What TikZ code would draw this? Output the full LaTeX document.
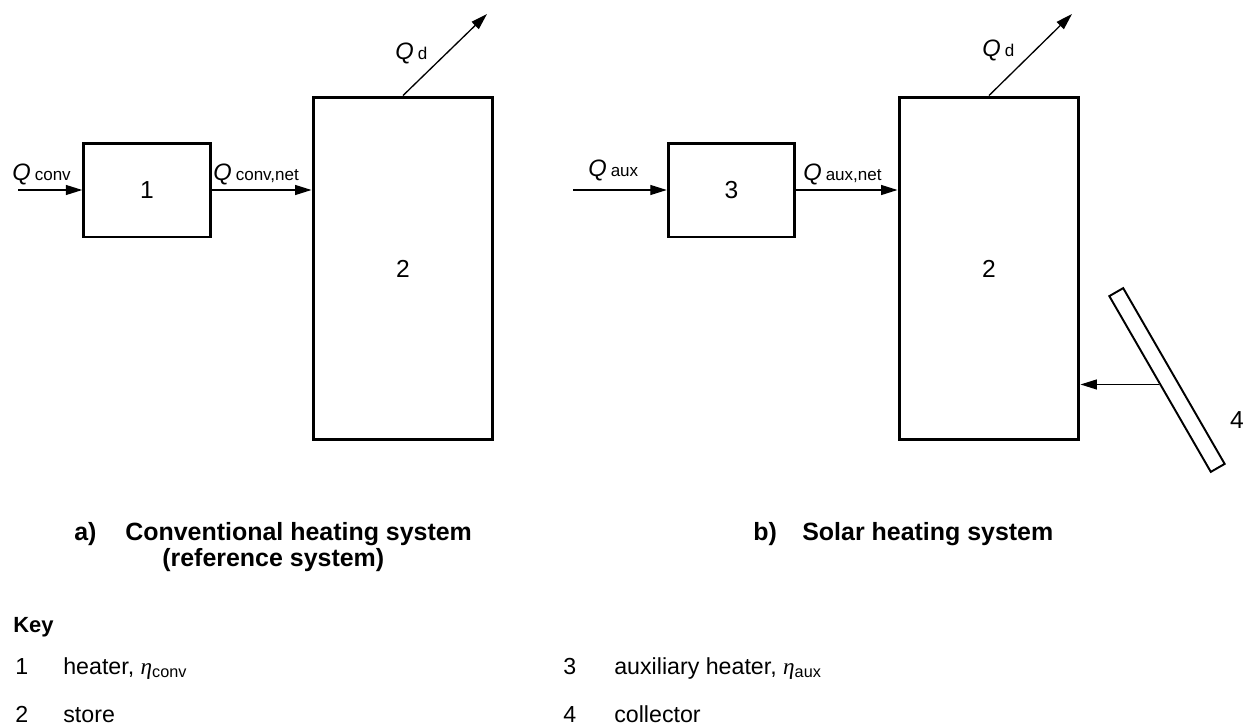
\documentclass[tikz,border=0pt]{standalone}
\usepackage{fontspec}
\setmainfont{Liberation Sans}
\newfontfamily\greekserif{Liberation Serif}
\usepackage{tikz}
\usetikzlibrary{arrows.meta,calc}
\newcommand{\qsym}[1]{\textit{Q}\,{\fontsize{9.7}{11}\selectfont #1}}
\newcommand{\effsym}[1]{{\greekserif\itshape η}\textsubscript{#1}}
\tikzset{
  unitbox/.style={draw,line width=1.7pt,minimum width=2.53cm,minimum height=1.88cm,inner sep=0pt,font=\fontsize{14}{16}\selectfont},
  storebox/.style={unitbox,minimum width=3.6cm,minimum height=6.86cm},
  collplate/.style={draw,line width=1.1pt,minimum width=4.06cm,minimum height=0.32cm,inner sep=0pt,rotate=-60},
  flow/.style={line width=0.75pt,-{Triangle[length=3.3mm,width=2mm]}},
  qlabel/.style={anchor=base west,inner sep=0pt,font=\fontsize{13.5}{15}\selectfont},
  caption/.style={anchor=base west,inner sep=0pt,font=\bfseries\fontsize{14.2}{17}\selectfont},
  keyitem/.style={anchor=base west,inner sep=0pt,font=\fontsize{13.2}{15}\selectfont}
}

\begin{document}
\begin{tikzpicture}[x=0.02cm,y=-0.02cm]
  \useasboundingbox (0,0) rectangle (1249,727);
  \node[unitbox] (heater) at (147,190) {1};
  \node[storebox] (store) at (403,268.5) {2};
  \node[unitbox] (auxheater) at (731.5,190) {3};
  \node[storebox] (storeb) at (989,268.5) {2};
  \node[collplate] (coll) at (1167,380) {};
  \node[font=\fontsize{14}{16}\selectfont] (collnum) at (1237,420) {4};
  \coordinate (convin) at (18,190);
  \coordinate (auxin) at (573,190);
  \coordinate (qdout) at (487,14);
  \coordinate (qdoutb) at (1072,14);
  \draw[flow] (convin) -- (heater);
  \draw[flow] (heater.east) -- (heater.east -| store.west);
  \draw[flow] (store.north) -- (qdout);
  \draw[flow] (auxin) -- (auxheater);
  \draw[flow] (auxheater.east) -- (auxheater.east -| storeb.west);
  \draw[flow] (storeb.north) -- (qdoutb);
  \draw[flow] (coll.south) -- (coll.south -| storeb.east);
  \node[qlabel] (qconv) at (12,180) {\qsym{conv}};
  \node[qlabel] (qconvnet) at (213,180) {\qsym{conv,net}};
  \node[qlabel] (qd) at (395,59) {\qsym{d}};
  \node[qlabel] (qaux) at (588,176) {\qsym{aux}};
  \node[qlabel] (qauxnet) at (803,180) {\qsym{aux,net}};
  \node[qlabel] (qdb) at (982,56) {\qsym{d}};
  \node[caption] (capa) at (74,540) {a)};
  \node[caption] (capatext) at (125,540) {Conventional heating system};
  \node[caption] (capasub) at (162,566) {(reference system)};
  \node[caption] (capb) at (753,540) {b)};
  \node[caption] (capbtext) at (802,540) {Solar heating system};
  \node[caption,font=\bfseries\fontsize{12.5}{15}\selectfont] (keyhead) at (13,632) {Key};
  \foreach \n/\nx/\tx/\y/\t in {1/15/63/674/{heater, \effsym{conv}},2/15/63/722/store,
      3/563/614/674/{auxiliary heater, \effsym{aux}},4/563/614/722/collector}{
    \node[keyitem] (keynum\n) at (\nx,\y) {\n};
    \node[keyitem] (keytext\n) at (\tx,\y) {\t};
  }
\end{tikzpicture}
\end{document}
